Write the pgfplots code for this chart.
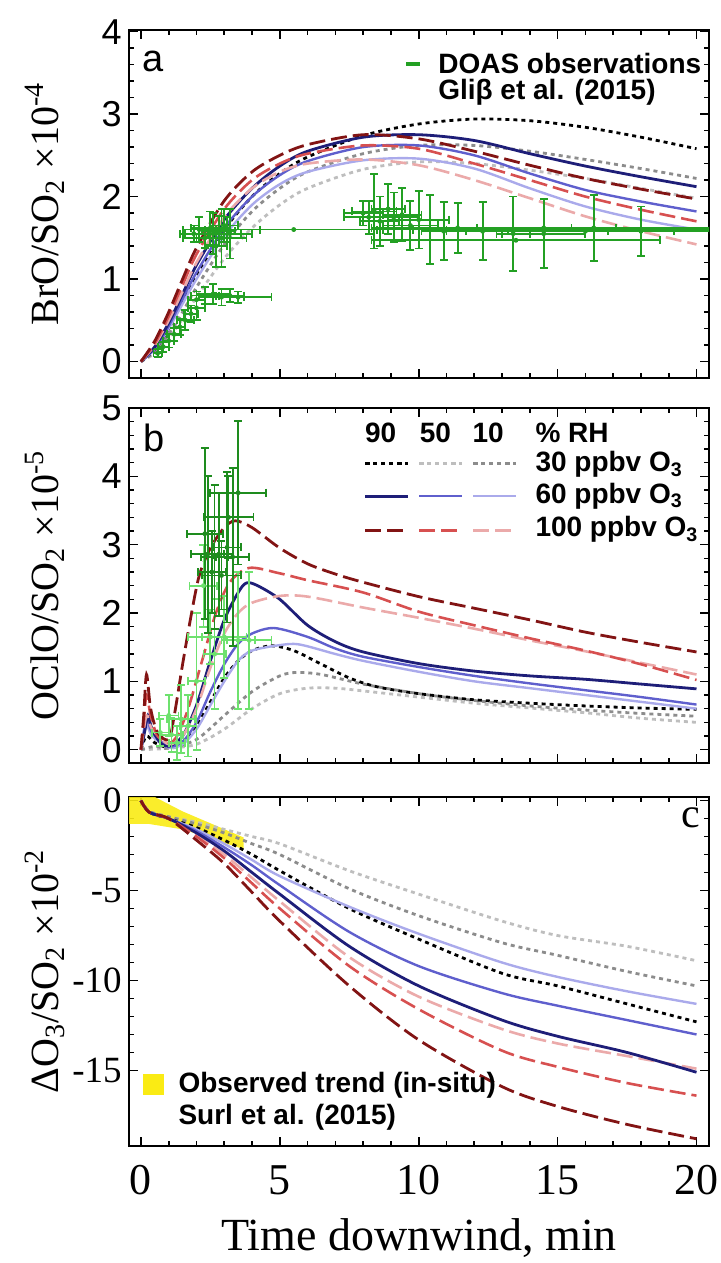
\documentclass[border=0pt]{standalone}
\usepackage{fontspec}
\setmainfont{Liberation Serif}
\newfontfamily\arial{Liberation Sans}
\usepackage{pgfplots}
\usepackage{pgfplotstable}
\pgfplotsset{compat=1.18}

\definecolor{cNavy}{RGB}{30,30,120}
\definecolor{cBlue}{RGB}{95,95,205}
\definecolor{cLav}{RGB}{170,170,235}
\definecolor{cDRed}{RGB}{130,20,20}
\definecolor{cRed}{RGB}{215,80,80}
\definecolor{cPink}{RGB}{235,170,170}
\definecolor{cGray}{RGB}{140,140,140}
\definecolor{cLGray}{RGB}{190,190,190}
\definecolor{cGreen}{RGB}{35,160,35}
\definecolor{cDGreen}{RGB}{30,140,30}
\definecolor{cLGreen}{RGB}{110,225,110}
\definecolor{cYellow}{RGB}{250,235,20}

\newcommand{\fTickAB}{\arial\fontsize{18}{19}\selectfont}
\newcommand{\fTickC}{\fontsize{18.5}{19}\selectfont}
\newcommand{\fXTick}{\fontsize{22}{24}\selectfont}
\newcommand{\fLab}{\fontsize{20}{22}\selectfont}
\newcommand{\fXLab}{\fontsize{23}{25}\selectfont}
\newcommand{\fLeg}{\arial\bfseries\fontsize{14}{16}\selectfont}

\pgfplotstableread{
x y ex ey
0.6 0.10 0.15 0.05
0.8 0.18 0.2 0.06
1.0 0.25 0.2 0.08
1.2 0.33 0.25 0.08
1.4 0.42 0.2 0.1
1.6 0.50 0.3 0.12
1.8 0.58 0.25 0.1
2.0 0.65 0.3 0.15
2.0 0.75 0.3 0.1
2.3 0.80 0.5 0.1
2.6 0.82 0.6 0.12
2.9 0.78 0.8 0.1
3.2 0.80 0.5 0.08
3.5 0.78 1.2 0.07
1.9 1.55 0.5 0.1
2.1 1.60 0.6 0.15
2.3 1.50 0.8 0.12
2.5 1.62 0.7 0.2
2.6 1.55 1.0 0.25
2.8 1.58 0.6 0.18
2.9 1.50 0.9 0.35
3.0 1.65 0.5 0.2
3.2 1.55 0.8 0.3
2.7 1.40 0.4 0.25
3.1 1.60 1.2 0.15
5.5 1.60 3.2 0.0
8.0 1.80 0.7 0.15
8.2 1.75 0.9 0.2
8.4 1.82 0.8 0.45
8.6 1.70 0.7 0.3
8.9 1.85 0.6 0.3
9.1 1.75 0.9 0.3
9.4 1.78 0.7 0.32
9.7 1.65 1.0 0.3
10.0 1.72 1.1 0.35
10.4 1.60 0.6 0.42
10.9 1.58 0.8 0.35
11.4 1.62 0.7 0.3
12.3 1.58 0.9 0.35
13.4 1.55 0.6 0.45
14.5 1.55 1.5 0.42
16.3 1.62 0.8 0.4
18.0 1.58 1.2 0.3
14.5 1.60 6.0 0.0
14.5 1.62 6.2 0.0
16.0 1.58 5.0 0.0
13.5 1.47 5.2 0.0
}\doasA

\pgfplotstableread{
x y ex ey
2.3 3.16 0.65 1.25
2.4 2.86 0.6 1.15
2.65 2.82 0.5 1.05
2.8 2.86 0.5 0.9
3.1 2.96 0.5 1.1
3.3 2.82 0.6 1.3
3.5 3.76 1.0 1.05
3.15 3.40 0.9 0.6
2.55 2.60 0.5 0.6
2.9 2.55 0.7 0.5
}\doasBd

\pgfplotstableread{
x y ex ey
0.7 0.25 0.3 0.2
1.0 0.50 0.35 0.3
1.1 0.22 0.4 0.25
1.45 0.45 0.5 0.5
1.7 0.35 0.3 0.45
2.0 1.0 0.3 1.0
2.25 2.4 0.5 0.6
2.5 1.65 0.8 0.4
2.65 1.4 0.4 0.8
3.0 1.65 0.8 0.6
3.5 1.6 0.6 1.0
3.9 1.6 0.8 1.0
1.3 0.1 0.3 0.25
}\doasBl

\pgfplotsset{
  common/.style={scale only axis, width=290pt, xmin=-0.43, xmax=20.45,
    xtick={0,5,10,15,20}, minor x tick num=4,
    axis line style={line width=1.1pt},
    major tick length=4.5pt, minor tick length=2.5pt,
    every tick/.style={black, line width=0.8pt},
    tick align=inside, xtick pos=both, ytick pos=both,
    /pgf/number format/assume math mode=true,
    every axis y label/.style={at={(axis description cs:-0.145,0.5)}, rotate=90, anchor=center, font=\fLab},
    yticklabel style={inner sep=0pt, xshift=-3.5pt}},
  dotK/.style={black, line width=1.4pt, dash pattern=on 2pt off 2pt, smooth, no markers},
  dotG/.style={cGray, line width=1.4pt, dash pattern=on 2pt off 2pt, smooth, no markers},
  dotL/.style={cLGray, line width=1.4pt, dash pattern=on 2pt off 2pt, smooth, no markers},
  solN/.style={cNavy, line width=1.4pt, smooth, no markers},
  solB/.style={cBlue, line width=1.2pt, smooth, no markers},
  solL/.style={cLav, line width=1.2pt, smooth, no markers},
  dshD/.style={cDRed, line width=1.4pt, dash pattern=on 8pt off 3pt, smooth, no markers},
  dshR/.style={cRed, line width=1.3pt, dash pattern=on 8pt off 3pt, smooth, no markers},
  dshP/.style={cPink, line width=1.3pt, dash pattern=on 8pt off 3pt, smooth, no markers},
  ebars/.style={only marks, mark=*, mark size=1pt, #1, mark options={fill=#1, draw=#1},
    error bars/.cd, x dir=both, x explicit, y dir=both, y explicit,
    error bar style={line width=0.9pt, #1},
    error mark options={#1, line width=0.9pt, mark size=2pt, rotate=90}},
}

\begin{document}
\begin{tikzpicture}
\path[use as bounding box] (0,0) rectangle (360.5pt,-631.5pt);

% ---------------- panel a ----------------
\begin{axis}[common, at={(64.5pt,-15pt)}, anchor=north west, height=174pt,
  ymin=-0.2, ymax=4.02, ytick={0,1,2,3,4}, minor y tick num=4,
  xticklabels={}, yticklabel style={font=\fTickAB},
  ylabel={BrO/SO\textsubscript{2} ×10\textsuperscript{-4}}]
\addplot[dotL] coordinates {(0,0)(0.5,0.1)(1,0.28)(1.5,0.52)(2,0.78)(3,1.25)(4,1.62)(5,1.9)(6,2.1)(8,2.33)(10,2.42)(12,2.4)(14,2.32)(16,2.22)(18,2.1)(20,1.98)};
\addplot[dotG] coordinates {(0,0)(0.5,0.12)(1,0.33)(1.5,0.6)(2,0.9)(3,1.42)(4,1.82)(5,2.1)(6,2.3)(8,2.52)(10,2.62)(12,2.62)(14,2.55)(16,2.45)(18,2.34)(20,2.22)};
\addplot[dotK] coordinates {(0,0)(0.5,0.15)(1,0.4)(1.5,0.72)(2,1.05)(3,1.6)(4,2.0)(5,2.28)(6,2.48)(8,2.74)(10,2.88)(12,2.94)(14,2.92)(16,2.84)(18,2.72)(20,2.58)};
\addplot[solL] coordinates {(0,0)(0.5,0.15)(1,0.4)(1.5,0.7)(2,1.0)(3,1.52)(4,1.9)(5,2.15)(6,2.3)(8,2.44)(10,2.46)(12,2.34)(14,2.1)(16,1.88)(18,1.72)(20,1.6)};
\addplot[solB] coordinates {(0,0)(0.5,0.16)(1,0.43)(1.5,0.76)(2,1.08)(3,1.62)(4,2.0)(5,2.26)(6,2.43)(8,2.6)(10,2.62)(12,2.5)(14,2.28)(16,2.08)(18,1.94)(20,1.82)};
\addplot[solN] coordinates {(0,0)(0.5,0.18)(1,0.47)(1.5,0.82)(2,1.17)(3,1.72)(4,2.1)(5,2.37)(6,2.55)(8,2.72)(10,2.75)(12,2.68)(14,2.52)(16,2.37)(18,2.24)(20,2.12)};
\addplot[dshP] coordinates {(0,0)(0.5,0.2)(1,0.5)(1.5,0.85)(2,1.2)(3,1.75)(4,2.1)(5,2.3)(6,2.4)(8,2.45)(10,2.38)(12,2.2)(14,1.98)(16,1.76)(18,1.58)(20,1.42)};
\addplot[dshR] coordinates {(0,0)(0.5,0.22)(1,0.55)(1.5,0.93)(2,1.3)(3,1.85)(4,2.2)(5,2.4)(6,2.52)(8,2.62)(10,2.58)(12,2.4)(14,2.2)(16,2.0)(18,1.84)(20,1.7)};
\addplot[dshD] coordinates {(0,0)(0.5,0.25)(1,0.6)(1.5,1.0)(2,1.38)(3,1.95)(4,2.3)(5,2.5)(6,2.63)(8,2.75)(10,2.7)(12,2.55)(14,2.38)(16,2.22)(18,2.09)(20,1.97)};
\addplot[ebars=cGreen] table[x=x, y=y, x error=ex, y error=ey] {\doasA};
\addplot[cGreen, line width=2.2pt, no markers] coordinates {(9.55,3.61)(10.05,3.61)};
\node[anchor=west, font=\fLeg] at (axis cs:10.45,3.61) {DOAS observations};
\node[anchor=west, font=\fLeg] at (axis cs:10.45,3.27) {Gliβ et al. (2015)};
\node[font=\arial\fontsize{19}{20}\selectfont] at (axis cs:0.45,3.64) {a};
\end{axis}

% ---------------- panel b ----------------
\begin{axis}[common, at={(64.5pt,-204pt)}, anchor=north west, height=177.5pt,
  ymin=-0.195, ymax=5.0, ytick={0,1,2,3,4,5}, minor y tick num=4,
  xticklabels={}, yticklabel style={font=\fTickAB},
  ylabel={OClO/SO\textsubscript{2} ×10\textsuperscript{-5}}]
\addplot[dotL] coordinates {(0,0)(1.0,0.02)(2.0,0.08)(3.0,0.3)(4.0,0.6)(5.0,0.82)(6.0,0.9)(7,0.9)(8,0.86)(10,0.77)(12,0.68)(14,0.61)(16,0.54)(18,0.46)(20,0.4)};
\addplot[dotG] coordinates {(0,0)(0.5,0.05)(1.0,0.02)(2.0,0.15)(3.0,0.5)(4.0,0.85)(5.0,1.08)(5.6,1.13)(6.5,1.1)(8,0.96)(10,0.82)(12,0.72)(14,0.64)(16,0.58)(18,0.53)(20,0.49)};
\addplot[dotK] coordinates {(0,0)(0.2,0.2)(0.5,0.1)(1.0,0.03)(1.5,0.1)(2.0,0.35)(2.5,0.7)(3.0,1.05)(3.5,1.3)(4.0,1.45)(4.7,1.52)(5.5,1.45)(6.5,1.25)(7.5,1.05)(8.5,0.92)(10,0.82)(12,0.73)(14,0.68)(16,0.64)(18,0.61)(20,0.59)};
\addplot[solL] coordinates {(0,0)(0.2,0.35)(0.4,0.2)(1.0,0.03)(1.5,0.08)(2.0,0.3)(2.5,0.65)(3.0,1.0)(3.5,1.3)(4.0,1.45)(5.0,1.53)(5.7,1.54)(7,1.4)(8,1.3)(10,1.14)(12,1.0)(14,0.9)(16,0.8)(18,0.7)(20,0.6)};
\addplot[solB] coordinates {(0,0)(0.2,0.45)(0.4,0.25)(1.0,0.05)(1.5,0.12)(2.0,0.4)(2.5,0.85)(3.0,1.25)(3.5,1.55)(4.0,1.7)(4.8,1.78)(6,1.65)(7,1.48)(8,1.36)(10,1.21)(12,1.08)(14,0.97)(16,0.87)(18,0.77)(20,0.66)};
\addplot[solN] coordinates {(0,0)(0.15,0.3)(0.25,0.5)(0.4,0.3)(0.7,0.1)(1.0,0.05)(1.5,0.2)(2.0,0.65)(2.5,1.3)(3.0,1.9)(3.5,2.3)(3.8,2.44)(4.2,2.4)(5,2.2)(6,1.82)(7,1.58)(8,1.43)(10,1.26)(12,1.15)(14,1.08)(16,1.03)(18,0.96)(20,0.89)};
\addplot[dshP] coordinates {(0,0)(0.2,0.5)(0.4,0.3)(1.0,0.08)(1.5,0.2)(2.0,0.6)(2.5,1.2)(3.0,1.7)(3.5,2.0)(4,2.15)(5,2.25)(6,2.24)(8,2.08)(10,1.93)(12,1.77)(14,1.6)(16,1.44)(18,1.27)(20,1.1)};
\addplot[dshR] coordinates {(0,0)(0.1,0.4)(0.2,0.8)(0.35,0.5)(0.6,0.2)(1.0,0.1)(1.3,0.2)(1.7,0.6)(2.2,1.3)(2.7,2.0)(3.2,2.45)(3.9,2.66)(5,2.58)(6,2.48)(8,2.3)(10,2.02)(12,1.82)(14,1.63)(16,1.45)(18,1.25)(20,1.02)};
\addplot[dshD] coordinates {(0,0)(0.1,0.5)(0.2,1.1)(0.35,0.6)(0.6,0.25)(1.0,0.15)(1.2,0.5)(1.5,1.25)(1.8,1.95)(2.1,2.55)(2.5,2.95)(3.0,3.25)(3.4,3.35)(4,3.25)(5,2.95)(6,2.72)(7,2.57)(8,2.45)(10,2.24)(12,2.07)(14,1.9)(16,1.72)(18,1.57)(20,1.43)};
\addplot[ebars=cLGreen] table[x=x, y=y, x error=ex, y error=ey] {\doasBl};
\addplot[ebars=cDGreen] table[x=x, y=y, x error=ex, y error=ey] {\doasBd};
% legend
\node[font=\fLeg] at (axis cs:8.63,4.63) {90};
\node[font=\fLeg] at (axis cs:10.6,4.63) {50};
\node[font=\fLeg] at (axis cs:12.5,4.63) {10};
\node[anchor=west, font=\fLeg] at (axis cs:13.95,4.63) {\% RH};
\addplot[dotK] coordinates {(8.08,4.19)(9.6,4.19)};
\addplot[dotL] coordinates {(10.02,4.19)(11.55,4.19)};
\addplot[dotG] coordinates {(11.96,4.19)(13.49,4.19)};
\addplot[solN] coordinates {(8.08,3.71)(9.6,3.71)};
\addplot[solB] coordinates {(10.02,3.71)(11.55,3.71)};
\addplot[solL] coordinates {(11.96,3.71)(13.49,3.71)};
\addplot[dshD] coordinates {(8.08,3.21)(9.6,3.21)};
\addplot[dshR] coordinates {(10.02,3.21)(11.55,3.21)};
\addplot[dshP] coordinates {(11.96,3.21)(13.49,3.21)};
\node[anchor=west, font=\fLeg] at (axis cs:13.95,4.17) {30 ppbv O\textsubscript{3}};
\node[anchor=west, font=\fLeg] at (axis cs:13.95,3.71) {60 ppbv O\textsubscript{3}};
\node[anchor=west, font=\fLeg] at (axis cs:13.95,3.22) {100 ppbv O\textsubscript{3}};
\node[font=\arial\fontsize{19}{20}\selectfont] at (axis cs:0.48,4.56) {b};
\end{axis}

% ---------------- panel c ----------------
\begin{axis}[common, at={(64.5pt,-398.5pt)}, anchor=north west, height=174.5pt,
  ymin=-19.2, ymax=0.2, ytick={-15,-10,-5,0}, yticklabels={-15,-10,-5,0},
  minor y tick num=4,
  yticklabel style={font=\fTickC},
  xticklabel style={font=\fXTick, anchor=center, yshift=-17pt},
  ylabel={ΔO\textsubscript{3}/SO\textsubscript{2} ×10\textsuperscript{-2}},
  xlabel={Time downwind, min},
  every axis x label/.style={at={(axis description cs:0.5,0)}, yshift=-46pt, anchor=center, font=\fXLab}]
\addplot[fill=cYellow, draw=none, fill opacity=0.9, no markers] coordinates {(-0.43,0.2)(0.5,0.2)(1.5,-0.6)(3.7,-2.05)(3.7,-2.7)(1.5,-1.6)(0.3,-1.3)(-0.43,-1.3)} -- cycle;
\addplot[dotL] coordinates {(0,0)(0.3,-0.6)(1,-0.9)(2,-1.2)(3,-1.6)(4,-2.0)(5,-2.4)(7.5,-3.9)(10,-5.2)(13,-6.7)(15,-7.5)(17.5,-8.1)(20,-8.9)};
\addplot[dotG] coordinates {(0,0)(0.3,-0.6)(1,-0.9)(2,-1.3)(3,-1.8)(4,-2.4)(5,-3.0)(7.5,-4.9)(10,-6.4)(13,-7.9)(15,-8.6)(17.5,-9.5)(20,-10.3)};
\addplot[dotK] coordinates {(0,0)(0.3,-0.65)(1,-1.0)(2,-1.5)(3,-2.2)(4,-3.0)(5,-3.9)(7.5,-6.0)(10,-7.7)(13,-9.6)(15,-10.3)(17.5,-11.3)(20,-12.3)};
\addplot[solL] coordinates {(0,0)(0.3,-0.65)(1,-1.0)(2,-1.6)(3,-2.4)(4,-3.3)(5,-4.2)(7.5,-5.9)(10,-7.4)(13,-9.0)(15,-9.8)(17.5,-10.6)(20,-11.3)};
\addplot[solB] coordinates {(0,0)(0.3,-0.65)(1,-1.0)(2,-1.7)(3,-2.6)(4,-3.6)(5,-4.7)(7.5,-7.3)(10,-9.2)(13,-10.7)(15,-11.4)(17.5,-12.2)(20,-13.0)};
\addplot[dshP] coordinates {(0,0)(0.3,-0.65)(1,-1.0)(2,-1.9)(3,-3.0)(4,-4.3)(5,-5.6)(7.5,-8.7)(10,-10.9)(13,-12.7)(15,-13.5)(17.5,-14.2)(20,-14.9)};
\addplot[solN] coordinates {(0,0)(0.3,-0.65)(1,-1.0)(2,-1.8)(3,-2.8)(4,-4.0)(5,-5.2)(7.5,-8.1)(10,-10.3)(13,-12.2)(15,-13.1)(17.5,-14.0)(20,-15.1)};
\addplot[dshR] coordinates {(0,0)(0.3,-0.65)(1,-1.0)(2,-2.0)(3,-3.2)(4,-4.6)(5,-6.0)(7.5,-9.2)(10,-11.6)(13,-13.9)(15,-14.8)(17.5,-15.7)(20,-16.4)};
\addplot[dshD] coordinates {(0,0)(0.3,-0.65)(1,-1.0)(2,-2.2)(3,-3.5)(4,-5.1)(5,-6.7)(7.5,-10.3)(10,-13.3)(13,-15.9)(15,-17.0)(17.5,-18.0)(20,-18.8)};
\addplot[only marks, mark=square*, mark size=5pt, mark options={fill=cYellow, draw=cYellow}] coordinates {(0.46,-15.8)};
\node[anchor=west, font=\fLeg] at (axis cs:1.1,-15.8) {Observed trend (in-situ)};
\node[anchor=west, font=\fLeg] at (axis cs:1.1,-17.6) {Surl et al. (2015)};
\node[font=\fontsize{21}{22}\selectfont] at (axis cs:19.8,-0.95) {c};
\end{axis}
\end{tikzpicture}
\end{document}
